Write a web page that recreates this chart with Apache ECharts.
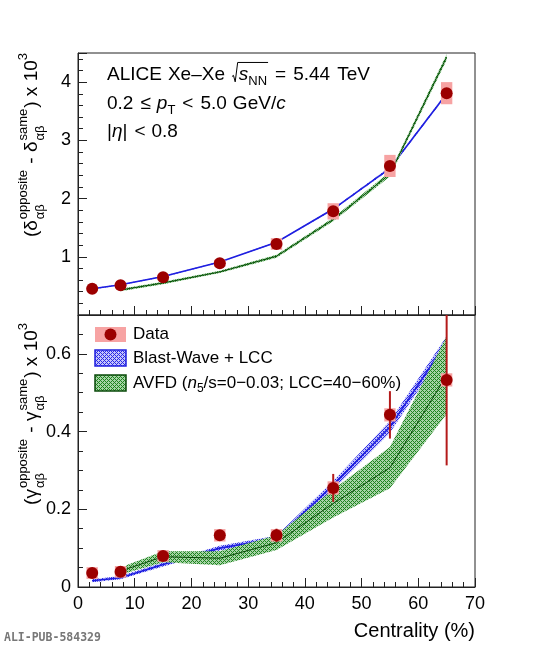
<!DOCTYPE html>
<html><head><meta charset="utf-8">
<script src="https://cdn.jsdelivr.net/npm/echarts@6/dist/echarts.min.js"></script>
<style>html,body{margin:0;padding:0;background:#fff}#c{width:545px;height:650px}</style>
</head><body><div id="c"></div>
<script>
// ---------- data ----------
const centrality = [2.5, 7.5, 15, 25, 35, 45, 55, 65];
const deltaData = [0.45, 0.51, 0.65, 0.89, 1.22, 1.78, 2.56, 3.81];
const deltaStat = [0.01, 0.01, 0.01, 0.01, 0.02, 0.02, 0.03, 0.04];
const deltaSys  = [0.03, 0.03, 0.04, 0.06, 0.10, 0.14, 0.19, 0.19];
const gammaData = [0.036, 0.039, 0.080, 0.133, 0.133, 0.255, 0.443, 0.533];
const gammaStat = [0.004, 0.004, 0.005, 0.006, 0.017, 0.036, 0.061, 0.22];
const gammaSys  = [0.015, 0.015, 0.015, 0.016, 0.016, 0.017, 0.017, 0.017];

const bwX = [2.5, 7.5, 15, 25, 35, 45, 55, 65];
const bwDelta    = [0.45, 0.52, 0.66, 0.91, 1.25, 1.82, 2.52, 3.80];
const bwDeltaErr = [0.01, 0.01, 0.01, 0.01, 0.01, 0.015, 0.02, 0.02];
const bwGamma    = [0.016, 0.024, 0.058, 0.100, 0.125, 0.262, 0.412, 0.630];
const bwGammaErr = [0.004, 0.004, 0.005, 0.006, 0.007, 0.011, 0.015, 0.015];

const avfdDeltaX   = [7.5, 15, 25, 35, 45, 55, 65];
const avfdDelta    = [0.43, 0.55, 0.74, 1.01, 1.64, 2.42, 4.43];
const avfdDeltaErr = [0.02, 0.02, 0.02, 0.025, 0.03, 0.04, 0.05];
const avfdGammaX   = [8.5, 15, 25, 35, 45, 55, 65];
const avfdGamma    = [0.046, 0.078, 0.074, 0.114, 0.215, 0.307, 0.545];
const avfdGammaErr = [0.010, 0.014, 0.018, 0.019, 0.036, 0.053, 0.10];

const xTickLabels = ['0', '10', '20', '30', '40', '50', '60', '70'];
const deltaTickLabels = ['1', '2', '3', '4'];
const gammaTickLabels = ['0', '0.2', '0.4', '0.6'];

// ---------- helpers ----------
const FAM = '"Liberation Sans", Arial, Helvetica, sans-serif';
const mctx = document.createElement('canvas').getContext('2d');
function fnt(size, it) { return (it ? 'italic ' : '') + size + 'px ' + FAM; }
function tw(t, size, it) { mctx.font = fnt(size, it); return mctx.measureText(t).width; }

function compose(segs, base, small) {
  const ch = []; let cx = 0; let r0 = 0;
  const txt = (t, x, y, size, it) => ch.push({type: 'text', style: {text: t, x: x, y: y, font: fnt(size, it), fill: '#000', textAlign: 'left', textVerticalAlign: 'middle'}});
  for (const sg of segs) {
    if (sg.gap) { cx += sg.gap; continue; }
    if (sg.rad === 'start') { r0 = cx; cx += base * 0.36; continue; }
    if (sg.rad === 'end') {
      const top = -base * 0.66;
      ch.push({type: 'polyline', shape: {points: [[r0, base * 0.08], [r0 + base * 0.08, 0.02 * base], [r0 + base * 0.17, base * 0.36], [r0 + base * 0.3, top], [cx + 1, top]]}, style: {stroke: '#000', lineWidth: 1, fill: null}});
      cx += 2; continue;
    }
    if (sg.stack) {
      const w1 = tw(sg.stack[0], small), w2 = tw(sg.stack[1], small);
      txt(sg.stack[0], cx + 1, -base * 0.45, small);
      txt(sg.stack[1], cx + 1, base * 0.42, small);
      cx += Math.max(w1, w2) + 2; continue;
    }
    const size = (sg.sub || sg.sup) ? small : base;
    const dy = sg.sub ? base * 0.36 : (sg.sup ? -base * 0.45 : 0);
    txt(sg.t, cx, dy, size, sg.it);
    cx += tw(sg.t, size, sg.it);
  }
  return {children: ch, width: cx};
}

function makePattern(bg, color) {
  const c = document.createElement('canvas'); c.width = 4; c.height = 4;
  const g = c.getContext('2d'); g.fillStyle = bg; g.fillRect(0, 0, 4, 4);
  g.fillStyle = color;
  for (let y = 0; y < 4; y++) for (let x = 0; x < 4; x++) {
    if ((x + y) % 4 === 0 || (x - y + 4) % 4 === 0) g.fillRect(x, y, 1, 1);
  }
  return c;
}
const greenPat = {image: makePattern('#a6d3a6', '#1f841f'), repeat: 'repeat'};
const bluePat = {image: makePattern('#c4c4fa', '#2a2ae6'), repeat: 'repeat'};

function bandSeries(idx, xs, ys, es, fill, edge, lineColor, lineWidth, z) {
  return {
    type: 'custom', xAxisIndex: idx, yAxisIndex: idx, clip: true, silent: true, z: z,
    data: [[xs[0], ys[0]]],
    renderItem: function (params, api) {
      const up = xs.map((x, i) => api.coord([x, ys[i] + es[i]]));
      const lo = xs.map((x, i) => api.coord([x, ys[i] - es[i]])).reverse();
      const mid = xs.map((x, i) => api.coord([x, ys[i]]));
      return {type: 'group', children: [
        {type: 'polygon', shape: {points: up.concat(lo)}, style: {fill: fill, stroke: edge, lineWidth: 0.6}},
        {type: 'polyline', shape: {points: mid}, style: {stroke: lineColor, lineWidth: lineWidth, fill: null}}
      ]};
    }
  };
}
function sysSeries(idx, ys, es) {
  return {
    type: 'custom', xAxisIndex: idx, yAxisIndex: idx, clip: true, silent: true, z: 4,
    data: centrality.map((x, i) => [x, ys[i], es[i]]),
    renderItem: function (params, api) {
      const x = api.value(0), y = api.value(1), e = api.value(2);
      const a = api.coord([x - 1, y + e]), b = api.coord([x + 1, y - e]);
      return {type: 'rect', shape: {x: a[0], y: a[1], width: b[0] - a[0], height: b[1] - a[1]}, style: {fill: '#f7a3a3'}};
    }
  };
}
function statSeries(idx, ys, es) {
  return {
    type: 'custom', xAxisIndex: idx, yAxisIndex: idx, clip: true, silent: true, z: 5,
    data: centrality.map((x, i) => [x, ys[i], es[i]]),
    renderItem: function (params, api) {
      const x = api.value(0), y = api.value(1), e = api.value(2);
      const a = api.coord([x, y + e]), b = api.coord([x, y - e]);
      return {type: 'line', shape: {x1: a[0], y1: a[1], x2: b[0], y2: b[1]}, style: {stroke: '#b41a1a', lineWidth: 2}};
    }
  };
}
function pointSeries(idx, ys) {
  return {type: 'scatter', xAxisIndex: idx, yAxisIndex: idx, silent: true, z: 6,
    data: centrality.map((x, i) => [x, ys[i]]), symbolSize: 12,
    itemStyle: {color: '#9c0000', opacity: 1}};
}
function labelFrom(list) {
  return function (v) {
    for (const l of list) if (Math.abs(parseFloat(l) - v) < 1e-6) return l;
    return '';
  };
}
const AX = '#222';
function xAxisOpt(idx, showLabel) {
  return {gridIndex: idx, type: 'value', min: 0, max: 70, interval: 10,
    axisLine: {show: true, lineStyle: {color: AX, width: 1}},
    axisTick: {show: true, inside: true, length: 9, lineStyle: {color: AX}},
    minorTick: {show: true, splitNumber: 5, length: 5, lineStyle: {color: AX}},
    splitLine: {show: false},
    axisLabel: {show: showLabel, fontSize: 18, color: '#000', fontFamily: FAM, margin: 8, formatter: labelFrom(xTickLabels)}};
}
function yAxisOpt(idx, max, interval, minorSplit, labels) {
  return {gridIndex: idx, type: 'value', min: 0, max: max, interval: interval,
    axisLine: {show: true, lineStyle: {color: AX, width: 1}},
    axisTick: {show: true, inside: true, length: 9, lineStyle: {color: AX}},
    minorTick: {show: true, splitNumber: minorSplit, length: 5, lineStyle: {color: AX}},
    splitLine: {show: false},
    axisLabel: {show: true, fontSize: 18, color: '#000', fontFamily: FAM, margin: 7, formatter: labelFrom(labels)}};
}

// ---------- text graphics ----------
const graphics = [];
function addLine(segs, x, y, base, small) {
  const c = compose(segs, base, small);
  graphics.push({type: 'group', x: x, y: y, children: c.children, silent: true});
}
function addVTitle(segs, x, yEnd, base, small) {
  const c = compose(segs, base, small);
  graphics.push({type: 'group', x: x, y: yEnd + c.width, rotation: Math.PI / 2, children: c.children, silent: true});
}
addLine([{t: 'ALICE'}, {gap: 6}, {t: 'Xe–Xe'}, {gap: 7}, {rad: 'start'}, {t: 's', it: true}, {t: 'NN', sub: true}, {rad: 'end'}, {gap: 6}, {t: '='}, {gap: 7}, {t: '5.44'}, {gap: 7}, {t: 'TeV'}], 107, 75, 19, 13);
addLine([{t: '0.2'}, {gap: 7}, {t: '≤'}, {gap: 6}, {t: 'p', it: true}, {t: 'T', sub: true}, {gap: 7}, {t: '<'}, {gap: 7}, {t: '5.0'}, {gap: 6}, {t: 'GeV/'}, {t: 'c', it: true}], 107, 104, 19, 13);
addLine([{t: '|'}, {t: 'η', it: true}, {t: '|'}, {gap: 7}, {t: '<'}, {gap: 6}, {t: '0.8'}], 107, 132, 19, 13);

addVTitle([{t: '('}, {t: 'δ'}, {stack: ['opposite', 'αβ']}, {t: ' - '}, {t: 'δ'}, {stack: ['same', 'αβ']}, {t: ')'}, {t: ' x 10'}, {t: '3', sup: true}], 32, 53, 19, 13);
addVTitle([{t: '('}, {t: 'γ'}, {stack: ['opposite', 'αβ']}, {t: ' - '}, {t: 'γ'}, {stack: ['same', 'αβ']}, {t: ')'}, {t: ' x 10'}, {t: '3', sup: true}], 32, 323, 19, 13);

// legend
graphics.push({type: 'rect', shape: {x: 95, y: 327, width: 31, height: 15}, style: {fill: '#f7a3a3'}, silent: true});
graphics.push({type: 'circle', shape: {cx: 110.5, cy: 334.5, r: 6}, style: {fill: '#9c0000'}, silent: true});
graphics.push({type: 'rect', shape: {x: 95, y: 350, width: 31, height: 16}, style: {fill: bluePat, stroke: '#1f1fe0', lineWidth: 1.5}, silent: true});
graphics.push({type: 'rect', shape: {x: 95, y: 375, width: 31, height: 16}, style: {fill: greenPat, stroke: '#0a4a0a', lineWidth: 1.5}, silent: true});
addLine([{t: 'Data'}], 133, 334, 17, 12);
addLine([{t: 'Blast-Wave + LCC'}], 133, 358, 17, 12);
addLine([{t: 'AVFD ('}, {t: 'n', it: true}, {t: '5', sub: true}, {t: '/s=0−0.03; LCC=40−60%)'}], 133, 383, 17, 12);

graphics.push({type: 'text', style: {text: 'Centrality (%)', x: 475, y: 631, font: fnt(20, false), fill: '#000', textAlign: 'right', textVerticalAlign: 'middle'}, silent: true});
graphics.push({type: 'text', style: {text: 'ALI-PUB-584329', x: 4, y: 638, font: 'bold 11.5px "DejaVu Sans Mono", monospace', fill: '#777', textAlign: 'left', textVerticalAlign: 'middle'}, silent: true});

// ---------- chart ----------
const chart = echarts.init(document.getElementById('c'), null, {renderer: 'canvas'});
chart.setOption({
  animation: false,
  backgroundColor: '#fff',
  grid: [
    {left: 78, top: 53, width: 397, height: 262, show: true, borderColor: AX, borderWidth: 1, containLabel: false, outerBoundsMode: 'none'},
    {left: 78, top: 315, width: 397, height: 272, show: true, borderColor: AX, borderWidth: 1, containLabel: false, outerBoundsMode: 'none'}
  ],
  xAxis: [xAxisOpt(0, false), xAxisOpt(1, true)],
  yAxis: [yAxisOpt(0, 4.5, 1, 5, deltaTickLabels), yAxisOpt(1, 0.7, 0.2, 4, gammaTickLabels)],
  series: [
    bandSeries(0, bwX, bwDelta, bwDeltaErr, bluePat, null, '#1f1fe0', 1.6, 2),
    bandSeries(0, avfdDeltaX, avfdDelta, avfdDeltaErr, greenPat, null, '#0a4a0a', 1, 3),
    sysSeries(0, deltaData, deltaSys),
    statSeries(0, deltaData, deltaStat),
    pointSeries(0, deltaData),
    bandSeries(1, bwX, bwGamma, bwGammaErr, bluePat, null, '#1f1fe0', 1.6, 2),
    bandSeries(1, avfdGammaX, avfdGamma, avfdGammaErr, greenPat, null, '#0a4a0a', 1, 3),
    sysSeries(1, gammaData, gammaSys),
    statSeries(1, gammaData, gammaStat),
    pointSeries(1, gammaData)
  ],
  graphic: graphics
});
</script></body></html>
